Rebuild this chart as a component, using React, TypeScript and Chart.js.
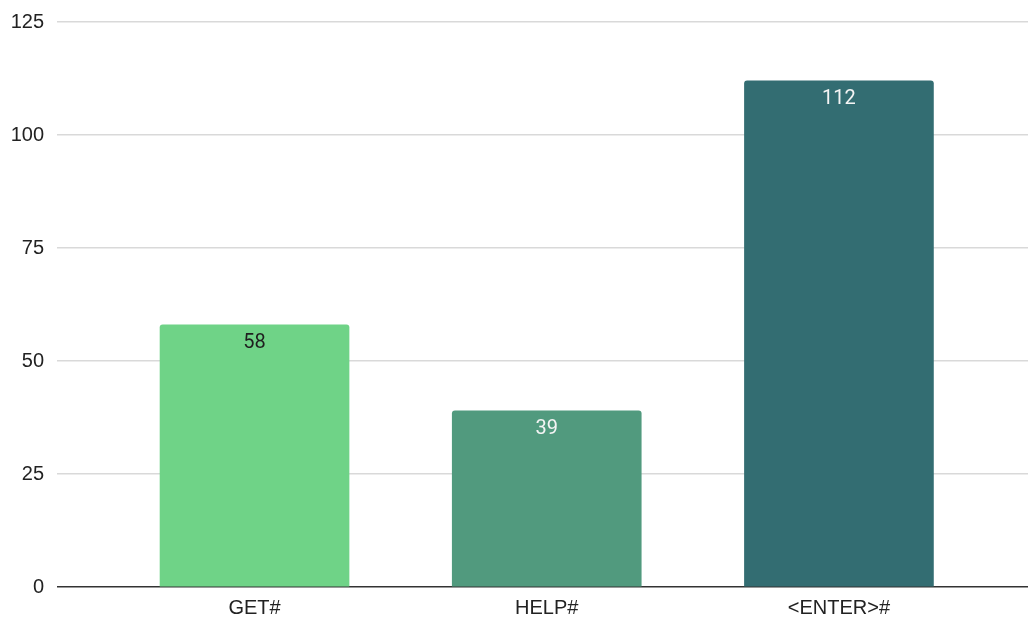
import React, { useEffect, useRef } from "react";
import { Chart, registerables } from "chart.js";

Chart.register(...registerables);

const categories = ["GET#", "HELP#", "<ENTER>#"];
const values = [58, 39, 112];
const barColors = ["#6fd387", "#519a7e", "#336d72"];
const labelColors = ["#1f1f1f", "#f4f4f4", "#f4f4f4"];
const yTicks = [0, 25, 50, 75, 100, 125];

const valueLabels = {
  id: "valueLabels",
  afterDatasetsDraw(chart: any) {
    const ctx = chart.ctx;
    const meta = chart.getDatasetMeta(0);
    ctx.save();
    ctx.font = "20px Roboto, 'Liberation Sans', sans-serif";
    ctx.textAlign = "center";
    ctx.textBaseline = "middle";
    meta.data.forEach((el: any, i: number) => {
      ctx.fillStyle = labelColors[i];
      ctx.fillText(String(values[i]), el.x, el.y + 18);
    });
    ctx.restore();
  },
};

export default function App() {
  const ref = useRef<HTMLCanvasElement | null>(null);
  useEffect(() => {
    if (!ref.current) return;
    const chart = new Chart(ref.current, {
      type: "bar",
      data: {
        datasets: [
          {
            data: values.map((v, i) => ({ x: i, y: v })),
            backgroundColor: barColors,
            barThickness: 189,
            borderRadius: 3,
            borderSkipped: "start",
          } as any,
        ],
      },
      options: {
        animation: false,
        responsive: false,
        maintainAspectRatio: false,
        layout: { padding: { top: 22, right: 0, left: 0, bottom: 0 } },
        plugins: { legend: { display: false }, tooltip: { enabled: false } },
        scales: {
          x: {
            type: "linear",
            offset: false,
            min: -0.676,
            max: 2.647,
            grid: { display: false, drawTicks: false },
            border: { display: false },
            afterBuildTicks: (scale: any) => {
              scale.ticks = categories.map((_, i) => ({ value: i }));
            },
            afterFit: (scale: any) => {
              scale.height = 31;
              scale.paddingLeft = 0;
              scale.paddingRight = 0;
            },
            ticks: {
              padding: 9,
              color: "#222",
              font: { family: "'Liberation Sans', Arial, sans-serif", size: 20 },
              callback: (v: any) => categories[v as number] ?? "",
              maxRotation: 0,
              autoSkip: false,
            },
          },
          y: {
            min: 0,
            max: 125,
            afterBuildTicks: (scale: any) => {
              scale.ticks = yTicks.map((v) => ({ value: v }));
            },
            afterFit: (scale: any) => {
              scale.width = 57;
              scale.paddingTop = 0;
              scale.paddingBottom = 0;
            },
            border: { display: false },
            grid: {
              drawTicks: false,
              color: (c: any) => (c.tick && c.tick.value === 0 ? "#333333" : "#d9d9d9"),
              lineWidth: 1.5,
            },
            ticks: {
              padding: 13,
              color: "#222",
              font: { family: "'Liberation Sans', Arial, sans-serif", size: 20 },
            },
          },
        },
      },
      plugins: [valueLabels],
    });
    return () => chart.destroy();
  }, []);
  return (
    <div style={{ position: "fixed", left: 0, top: 0, width: 1028, height: 618, background: "#fff" }}>
      <canvas ref={ref} width={1028} height={618} style={{ width: 1028, height: 618 }} />
    </div>
  );
}
